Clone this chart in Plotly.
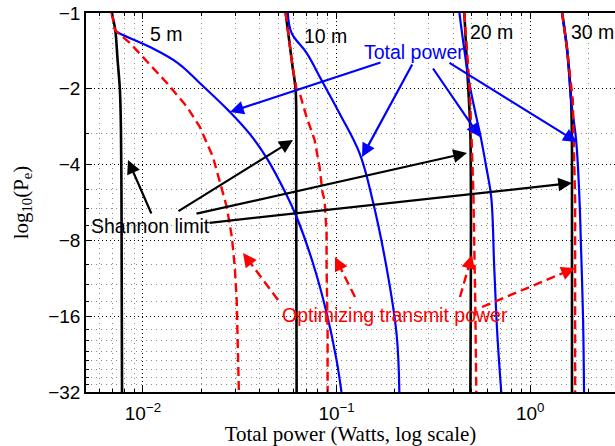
import numpy as np
import plotly.graph_objects as go

# ---- data: total power (W) against -log10(Pe) for four link distances ----
distances = ["5 m", "10 m", "20 m", "30 m"]

# Shannon limit
shannon_5_x = [0.0069, 0.0072, 0.0074, 0.0076, 0.0077, 0.00775, 0.0078]
shannon_5_y = [1.0, 1.17, 1.54, 2.0, 2.9, 5.5, 32]
shannon_10_x = [0.0546, 0.0593, 0.0615, 0.0619, 0.0622]
shannon_10_y = [1.0, 1.64, 2.02, 5.5, 32]
shannon_20_x = [0.457, 0.473, 0.491, 0.491]
shannon_20_y = [1.0, 1.68, 3.0, 32]
shannon_30_x = [1.462, 1.552, 1.627, 1.644, 1.644]
shannon_30_y = [1.0, 1.40, 2.22, 3.5, 32]

# Total power
total_5_x = [0.00717, 0.00734, 0.01087, 0.01515, 0.0197, 0.0281, 0.0356, 0.0436,
             0.0552, 0.0622, 0.0752, 0.0888, 0.100, 0.106]
total_5_y = [1.17, 1.19, 1.365, 1.58, 1.90, 2.47, 3.02, 3.77,
             5.28, 6.46, 9.75, 15.5, 23.9, 32]
total_10_x = [0.0560, 0.0586, 0.070, 0.0837, 0.1035, 0.1314, 0.1534, 0.181, 0.204, 0.211]
total_10_y = [1.0, 1.20, 1.44, 1.85, 2.50, 3.60, 5.53, 10.2, 18.7, 32]
total_20_x = [0.431, 0.457, 0.485, 0.527, 0.559, 0.593, 0.629, 0.652, 0.676, 0.709]
total_20_y = [1.0, 1.40, 1.90, 2.59, 3.19, 4.09, 5.38, 10.2, 18.7, 32]
total_30_x = [1.462, 1.552, 1.627, 1.726, 1.789, 1.832, 1.876, 1.897]
total_30_y = [1.0, 1.40, 2.22, 3.19, 5.05, 8.73, 16.6, 32]

# Optimizing transmit power
opt_5_x = [0.00692, 0.00717, 0.00857, 0.0100, 0.0133, 0.0169, 0.0197, 0.0230,
           0.0255, 0.0271, 0.0288, 0.0298, 0.0305, 0.0313]
opt_5_y = [1.0, 1.17, 1.316, 1.495, 1.897, 2.36, 2.84, 3.73,
           4.91, 5.89, 7.76, 10.2, 13.8, 32]
opt_10_x = [0.0546, 0.0593, 0.0622, 0.0645, 0.070, 0.0770, 0.0817, 0.0847,
            0.0867, 0.0888, 0.0888, 0.0899, 0.0899]
opt_10_y = [1.0, 1.64, 2.02, 2.08, 2.59, 3.19, 4.09, 5.19,
            5.53, 7.48, 10.2, 18.7, 32]
opt_20_x = [0.457, 0.473, 0.485, 0.497, 0.509, 0.520, 0.527]
opt_20_y = [1.0, 1.40, 1.90, 3.0, 5.19, 13.8, 32]
opt_30_x = [1.462, 1.552, 1.66, 1.69, 1.706, 1.706]
opt_30_y = [1.0, 1.40, 2.22, 3.5, 5.53, 32]

y_ticks = [1, 2, 4, 8, 16, 32]
y_tick_text = ["\u22121", "\u22122", "\u22124", "\u22128", "\u221216", "\u221232"]
y_minor = [3, 5, 6, 7, 10, 12, 14, 18, 20, 22, 24, 26, 28, 30]
x_ticks = [0.01, 0.1, 1]
x_tick_text = ["10<sup>\u22122</sup>", "10<sup>\u22121</sup>", "10<sup>0</sup>"]
x_minor = [k * 10.0 ** e for e in (-3, -2, -1, 0) for k in range(2, 10)]

BLUE = "#0000ff"
RED = "#ff0000"
BLACK = "#000000"

fig = go.Figure()

shannon = [(shannon_5_x, shannon_5_y), (shannon_10_x, shannon_10_y),
           (shannon_20_x, shannon_20_y), (shannon_30_x, shannon_30_y)]
total = [(total_5_x, total_5_y), (total_10_x, total_10_y),
         (total_20_x, total_20_y), (total_30_x, total_30_y)]
opt = [(opt_5_x, opt_5_y), (opt_10_x, opt_10_y),
       (opt_20_x, opt_20_y), (opt_30_x, opt_30_y)]

for (xs, ys), name in zip(shannon, distances):
    fig.add_trace(go.Scatter(x=xs, y=ys, mode="lines", name="Shannon " + name,
                             line=dict(color=BLACK, width=2.6, shape="spline", smoothing=0.8)))
for (xs, ys), name in zip(total, distances):
    fig.add_trace(go.Scatter(x=xs, y=ys, mode="lines", name="Total " + name,
                             line=dict(color=BLUE, width=2.2, shape="spline", smoothing=1.1)))
for (xs, ys), name in zip(opt, distances):
    fig.add_trace(go.Scatter(x=xs, y=ys, mode="lines", name="Optimized " + name,
                             line=dict(color=RED, width=2.4, dash="9px,5px")))

# ---- layout geometry (pixels) ----
W, H = 615, 446
L, R, T, B = 86, 615, 13, 392


def px(x):
    return (x - L) / (R - L)


def py(y):
    return 1 - (y - T) / (B - T)


ann = []
shapes = []
FONT = "Liberation Sans, Arial, Helvetica, sans-serif"


def label(text, x, y, color):
    ann.append(dict(text=text, x=px(x), y=py(y), xref="paper", yref="paper",
                    showarrow=False, xanchor="center", yanchor="middle",
                    font=dict(family=FONT, size=19.5, color=color)))


def arrow(tail, head, color):
    ann.append(dict(text="", x=px(head[0]), y=py(head[1]), xref="paper", yref="paper",
                    ax=tail[0] - head[0], ay=tail[1] - head[1], axref="pixel", ayref="pixel",
                    showarrow=True, arrowhead=2, arrowsize=1.25, arrowwidth=2.2,
                    arrowcolor=color, standoff=0, startstandoff=0))


def dashed_arrow(tail, head, color):
    dx, dy = head[0] - tail[0], head[1] - tail[1]
    n = np.hypot(dx, dy)
    ux, uy = dx / n, dy / n
    shapes.append(dict(type="line", xref="paper", yref="paper",
                       x0=px(tail[0]), y0=py(tail[1]),
                       x1=px(head[0] - 8 * ux), y1=py(head[1] - 8 * uy),
                       line=dict(color=color, width=2.4, dash="9px,5px")))
    ann.append(dict(text="", x=px(head[0]), y=py(head[1]), xref="paper", yref="paper",
                    ax=-10 * ux, ay=-10 * uy, axref="pixel", ayref="pixel",
                    showarrow=True, arrowhead=2, arrowsize=1.25, arrowwidth=2.2,
                    arrowcolor=color, standoff=0, startstandoff=0))


label("5 m", 166, 34, BLACK)
label("10 m", 325, 36, BLACK)
label("20 m", 491, 32, BLACK)
label("30 m", 592, 32, BLACK)
label("Total power", 414, 52, BLUE)
label("Shannon limit", 150, 226, BLACK)
label("Optimizing transmit power", 395, 315, RED)

for tail, head in [((382, 62), (230, 112)), ((413, 63), (362, 157)),
                   ((432, 67), (480, 137)), ((448, 62), (577, 142))]:
    arrow(tail, head, BLUE)

for tail, head in [((152, 215), (128, 160)), ((177, 212), (293, 140)),
                   ((195, 214), (467, 153)), ((208, 223), (572, 183))]:
    arrow(tail, head, BLACK)

for tail, head in [((278, 300), (243, 253)), ((355, 297), (335, 257)),
                   ((460, 297), (472, 255)), ((482, 307), (575, 268))]:
    dashed_arrow(tail, head, RED)

x_lo = -2.294
x_hi = 0.438

fig.update_layout(
    width=W, height=H,
    margin=dict(l=L, r=W - R, t=T, b=H - B),
    paper_bgcolor="white", plot_bgcolor="white",
    showlegend=False,
    annotations=ann, shapes=shapes,
    font=dict(family=FONT, size=19, color=BLACK),
    xaxis=dict(
        type="log", range=[x_lo, x_hi], automargin=False,
        tickvals=x_ticks, ticktext=x_tick_text,
        ticks="inside", ticklen=6, tickwidth=1, tickcolor=BLACK,
        ticklabelstandoff=3,
        showline=True, linecolor=BLACK, linewidth=1.5, mirror="ticks",
        showgrid=True, gridcolor=BLACK, gridwidth=1, griddash="1px,3px",
        zeroline=False,
        minor=dict(tickvals=x_minor, ticks="inside", ticklen=3, tickcolor=BLACK,
                   showgrid=True, gridcolor="#8a8a8a", gridwidth=1, griddash="1px,4px"),
        tickfont=dict(family=FONT, size=19),
        title=dict(text="Total power (Watts, log scale)", standoff=8,
                   font=dict(family="Liberation Serif, Times New Roman, serif", size=21)),
    ),
    yaxis=dict(
        type="log", range=[np.log10(32), 0], automargin=False,
        tickvals=y_ticks, ticktext=y_tick_text,
        ticks="inside", ticklen=6, tickwidth=1, tickcolor=BLACK,
        showline=True, linecolor=BLACK, linewidth=1.5, mirror=False,
        showgrid=True, gridcolor=BLACK, gridwidth=1, griddash="1px,3px",
        zeroline=False,
        minor=dict(tickvals=y_minor, ticks="inside", ticklen=3, tickcolor=BLACK,
                   showgrid=True, gridcolor="#8a8a8a", gridwidth=1, griddash="1px,4px"),
        tickfont=dict(family=FONT, size=19),
        title=dict(text="log<sub>10</sub>(P<sub>e</sub>)", standoff=14,
                   font=dict(family="Liberation Serif, Times New Roman, serif", size=21)),
    ),
)

fig.write_html("out.html")
